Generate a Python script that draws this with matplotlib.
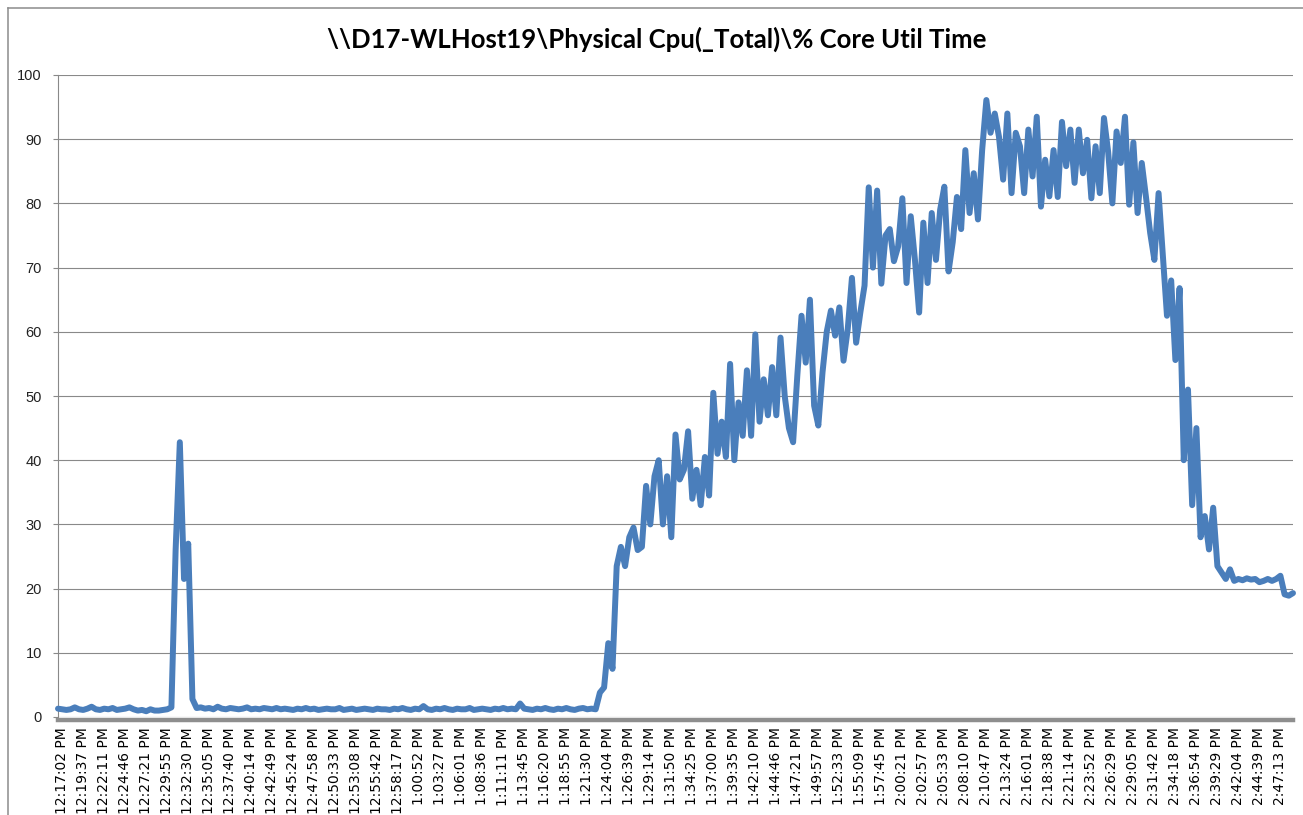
import matplotlib
matplotlib.use("Agg")
import matplotlib.pyplot as plt
from matplotlib.lines import Line2D

# Sampled % core utilisation (one value per sample, in time order)
idle_start = [1.3, 1.2, 1.1, 1.2, 1.5, 1.2, 1.1, 1.3, 1.6, 1.2, 1.1, 1.3, 1.2, 1.4,
              1.1, 1.2, 1.3, 1.5, 1.2, 1.0, 1.1, 0.9, 1.2, 1.0, 1.0, 1.1, 1.2]
early_spike = [1.5, 26.0, 42.8, 21.5, 27.0, 2.8, 1.4]
idle_mid = [1.5, 1.3, 1.4, 1.2, 1.6, 1.3, 1.2, 1.4, 1.3, 1.2, 1.3, 1.5, 1.2, 1.3, 1.2, 1.4, 1.3, 1.2, 1.4, 1.2,
            1.3, 1.2, 1.1, 1.3, 1.2, 1.4, 1.2, 1.3, 1.1, 1.2, 1.3, 1.2, 1.2, 1.4, 1.1, 1.2, 1.3, 1.1, 1.2, 1.3,
            1.2, 1.1, 1.3, 1.2, 1.2, 1.1, 1.3, 1.2, 1.4, 1.2, 1.1, 1.3, 1.2, 1.7, 1.2, 1.1, 1.3, 1.2, 1.4, 1.2,
            1.1, 1.3, 1.2, 1.2, 1.4, 1.1, 1.2, 1.3, 1.2, 1.1, 1.3, 1.2, 1.4, 1.2, 1.3, 1.2, 2.1, 1.3, 1.2, 1.1,
            1.3, 1.2, 1.4, 1.2, 1.1, 1.3, 1.2, 1.4, 1.2, 1.1, 1.3, 1.4, 1.2, 1.3, 1.2]
ramp_up = [3.8, 4.6, 11.5, 7.5, 23.5, 26.5, 23.5, 28.0, 29.5, 26.0, 26.5, 36.0,
           30.0, 37.5, 40.0, 30.0, 37.5, 28.0, 44.0, 37.0, 38.5, 44.5, 34.0, 38.5, 33.0, 40.5, 34.5, 50.5, 41.0, 46.0, 40.5, 55.0,
           40.0, 49.0, 43.8, 54.0, 43.8, 59.6, 46.0, 52.6, 47.0, 54.5, 47.0, 59.1, 50.0, 45.0, 42.8, 53.2, 62.5, 55.2, 65.0, 48.5,
           45.4, 53.7, 60.0, 63.3, 59.4, 63.8, 55.5, 60.4, 68.4, 58.3, 63.0, 67.2, 82.5, 70.0, 82.0, 67.5, 75.0, 76.0, 71.0, 73.3]
plateau = [80.8, 67.6, 78.0, 71.2, 63.0, 77.0, 67.6, 78.5, 71.2, 79.0, 82.6, 69.4, 74.0, 81.0, 76.0, 88.3, 78.5, 84.7, 77.5, 88.3,
           96.1, 91.0, 94.0, 90.4, 83.7, 94.0, 81.6, 91.0, 88.9, 81.6, 91.5, 84.2, 93.5, 79.5, 86.8, 81.1, 88.3, 81.0, 92.7, 85.8,
           91.5, 83.2, 91.5, 84.7, 89.9, 80.8, 88.9, 81.6, 93.3, 88.0, 80.0, 91.2, 86.3, 93.5, 79.8, 89.5, 78.5, 86.3, 81.0, 75.4]
ramp_down = [71.2, 81.6, 72.0, 62.5, 68.0, 55.6, 66.8, 40.0, 51.0, 33.0, 45.0, 28.0, 31.3, 26.1, 32.6, 23.5, 22.5, 21.5, 23.0, 21.2,
             21.5, 21.3, 21.6, 21.4, 21.5, 21.0, 21.2, 21.5, 21.2, 21.5, 22.0, 19.1, 18.9, 19.3]

cpu_pct = idle_start + early_spike + idle_mid + ramp_up + plateau + ramp_down

# Category labels shown along the time axis (every 5th sample)
tick_labels = [
    "12:17:02 PM", "12:19:37 PM", "12:22:11 PM", "12:24:46 PM", "12:27:21 PM", "12:29:55 PM",
    "12:32:30 PM", "12:35:05 PM", "12:37:40 PM", "12:40:14 PM", "12:42:49 PM", "12:45:24 PM",
    "12:47:58 PM", "12:50:33 PM", "12:53:08 PM", "12:55:42 PM", "12:58:17 PM", "1:00:52 PM",
    "1:03:27 PM", "1:06:01 PM", "1:08:36 PM", "1:11:11 PM", "1:13:45 PM", "1:16:20 PM",
    "1:18:55 PM", "1:21:30 PM", "1:24:04 PM", "1:26:39 PM", "1:29:14 PM", "1:31:50 PM",
    "1:34:25 PM", "1:37:00 PM", "1:39:35 PM", "1:42:10 PM", "1:44:46 PM", "1:47:21 PM",
    "1:49:57 PM", "1:52:33 PM", "1:55:09 PM", "1:57:45 PM", "2:00:21 PM", "2:02:57 PM",
    "2:05:33 PM", "2:08:10 PM", "2:10:47 PM", "2:13:24 PM", "2:16:01 PM", "2:18:38 PM",
    "2:21:14 PM", "2:23:52 PM", "2:26:29 PM", "2:29:05 PM", "2:31:42 PM", "2:34:18 PM",
    "2:36:54 PM", "2:39:29 PM", "2:42:04 PM", "2:44:39 PM", "2:47:13 PM",
]
label_every = 5
first_label = 1

y_ticks = list(range(0, 101, 10))
title = "\\\\D17-WLHost19\\Physical Cpu(_Total)\\% Core Util Time"

LINE_BLUE = "#4A7EBB"
GRID_GREY = "#898989"

W, H = 1303, 815
fig = plt.figure(figsize=(W / 100, H / 100), dpi=100)
fig.patch.set_facecolor("white")

ax = fig.add_axes([58 / W, 1 - 717 / H, (1293 - 58) / W, (717 - 75) / H])
ax.set_facecolor("white")

x = list(range(len(cpu_pct)))
ax.plot(x, cpu_pct, color=LINE_BLUE, linewidth=4.3, solid_joinstyle="round",
        solid_capstyle="round", zorder=3, clip_on=False)

ax.set_xlim(0, len(cpu_pct) - 1)
ax.set_ylim(0, 100)

# tick geometry first, then labels (changing pad rebuilds the tick objects)
ax.tick_params(axis="y", length=3.6, width=0.8, color=GRID_GREY, pad=8)
ax.tick_params(axis="x", length=0, pad=5.5, labelrotation=90)

ax.set_yticks(y_ticks)
ax.set_yticklabels([str(v) for v in y_ticks], fontsize=10.5, family="Liberation Sans", color="#222222")
ax.yaxis.grid(True, color=GRID_GREY, linewidth=0.8)
ax.set_axisbelow(True)

tick_pos = [first_label + label_every * i for i in range(len(tick_labels))]
ax.set_xticks(tick_pos)
ax.set_xticklabels(tick_labels, rotation=90, fontsize=10.5, family="Liberation Sans",
                   color="#222222", va="top", ha="center")

for side in ("top", "right"):
    ax.spines[side].set_visible(False)
ax.spines["left"].set_color(GRID_GREY)
ax.spines["left"].set_linewidth(0.8)
ax.spines["bottom"].set_color("#8E8E8E")
ax.spines["bottom"].set_linewidth(3.2)
ax.spines["bottom"].set_position(("outward", 1.8))
ax.spines["bottom"].set_zorder(4)

fig.text(657 / W, 1 - 39 / H, title, ha="center", va="center", fontsize=18.5,
         fontweight="bold", family="Lato", color="#000000")

# chart-area frame (top and left edges)
fig.add_artist(Line2D([8 / W, 1.0], [1 - 8 / H, 1 - 8 / H], color="#8C8C8C", linewidth=1.1))
fig.add_artist(Line2D([8 / W, 8 / W], [0.0, 1 - 8 / H], color="#8C8C8C", linewidth=1.1))

fig.savefig("out.png", dpi=100, facecolor="white")
